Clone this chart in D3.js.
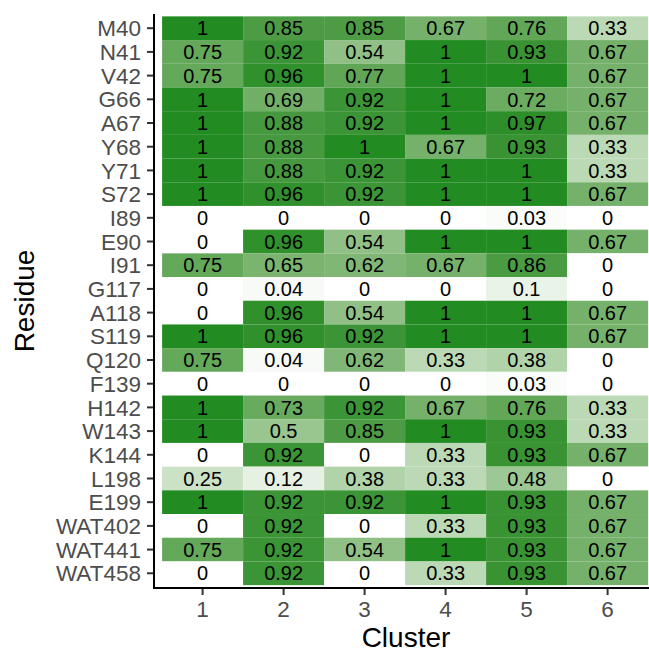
<!DOCTYPE html>
<html>
<head>
<meta charset="utf-8">
<script src="https://cdn.jsdelivr.net/npm/d3@7"></script>
<style>
	body { margin: 0; background: #fff; }
	svg text { font-family: "Liberation Sans", Arial, sans-serif; }
</style>
</head>
<body>
<svg id="svg-heat"></svg>
<script>
/*=================
=== The data
=================*/
var residues = ['M40', 'N41', 'V42', 'G66', 'A67', 'Y68', 'Y71', 'S72', 'I89', 'E90', 'I91', 'G117',
	'A118', 'S119', 'Q120', 'F139', 'H142', 'W143', 'K144', 'L198', 'E199', 'WAT402', 'WAT441', 'WAT458'];
var clusters = ['1', '2', '3', '4', '5', '6'];

// one row per residue, one value per cluster
var c1 = [1, 0.75, 0.75, 1, 1, 1, 1, 1, 0, 0, 0.75, 0, 0, 1, 0.75, 0, 1, 1, 0, 0.25, 1, 0, 0.75, 0];
var c2 = [0.85, 0.92, 0.96, 0.69, 0.88, 0.88, 0.88, 0.96, 0, 0.96, 0.65, 0.04, 0.96, 0.96, 0.04, 0, 0.73, 0.5, 0.92, 0.12, 0.92, 0.92, 0.92, 0.92];
var c3 = [0.85, 0.54, 0.77, 0.92, 0.92, 1, 0.92, 0.92, 0, 0.54, 0.62, 0, 0.54, 0.92, 0.62, 0, 0.92, 0.85, 0, 0.38, 0.92, 0, 0.54, 0];
var c4 = [0.67, 1, 1, 1, 1, 0.67, 1, 1, 0, 1, 0.67, 0, 1, 1, 0.33, 0, 0.67, 1, 0.33, 0.33, 1, 0.33, 1, 0.33];
var c5 = [0.76, 0.93, 1, 0.72, 0.97, 0.93, 1, 1, 0.03, 1, 0.86, 0.1, 1, 1, 0.38, 0.03, 0.76, 0.93, 0.93, 0.48, 0.93, 0.93, 0.93, 0.93];
var c6 = [0.33, 0.67, 0.67, 0.67, 0.67, 0.33, 0.33, 0.67, 0, 0.67, 0, 0, 0.67, 0.67, 0, 0, 0.33, 0.33, 0.67, 0, 0.67, 0.67, 0.67, 0.67];
var clusterValues = [c1, c2, c3, c4, c5, c6];

/*=================
=== The vars
=================*/
var width = 649;
var height = 654;

var svg = d3.select('#svg-heat')
	.attr('width', width)
	.attr('height', height);

// discrete scales, 0.1 of a tile left as gap at each end like ggplot
var x = d3.scaleBand().domain(clusters).range([154, 656.2]).paddingInner(0).paddingOuter(0.1);
var y = d3.scaleBand().domain(residues).range([14, 587.5]).paddingInner(0).paddingOuter(0.1);
var fill = d3.scaleLinear().domain([0, 1]).range(['#ffffff', 'forestgreen']).interpolate(d3.interpolateLab);

var cells = [];
clusters.forEach(function (c, j) {
	residues.forEach(function (r, i) {
		cells.push({ cluster: c, residue: r, value: clusterValues[j][i] });
	});
});

/*=================
=== Tiles
=================*/
svg.append('g')
	.selectAll('rect')
	.data(cells)
	.enter()
	.append('rect')
	.attr('x', function (d) { return x(d.cluster); })
	.attr('y', function (d) { return y(d.residue); })
	.attr('width', x.bandwidth())
	.attr('height', y.bandwidth())
	.attr('fill', function (d) { return fill(d.value); });

svg.append('g')
	.selectAll('text')
	.data(cells)
	.enter()
	.append('text')
	.attr('x', function (d) { return x(d.cluster) + x.bandwidth() / 2; })
	.attr('y', function (d) { return y(d.residue) + y.bandwidth() / 2; })
	.attr('dy', '0.36em')
	.attr('text-anchor', 'middle')
	.style('font-size', '20px')
	.style('fill', '#000')
	.text(function (d) { return d.value; });

/*=================
=== Axes
=================*/
var yAxis = svg.append('g')
	.attr('transform', 'translate(154,0)')
	.call(d3.axisLeft(y).tickSize(7).tickPadding(6));

var xAxis = svg.append('g')
	.attr('transform', 'translate(0,588)')
	.call(d3.axisBottom(x).tickSize(7).tickPadding(5));

[yAxis, xAxis].forEach(function (a) {
	a.select('.domain').remove();
	a.selectAll('.tick line').attr('stroke', '#333').attr('stroke-width', 2);
	a.selectAll('.tick text')
		.style('font-size', '22.5px')
		.style('font-family', '"Liberation Sans", Arial, sans-serif')
		.attr('fill', '#4d4d4d');
});
yAxis.selectAll('.tick text').attr('dy', '0.36em');
xAxis.selectAll('.tick text').attr('dy', '0.75em');

// axis lines drawn on top
svg.append('line')
	.attr('x1', 154).attr('x2', 154)
	.attr('y1', 14).attr('y2', 589)
	.attr('stroke', '#000').attr('stroke-width', 2);
svg.append('line')
	.attr('x1', 153).attr('x2', width)
	.attr('y1', 588).attr('y2', 588)
	.attr('stroke', '#000').attr('stroke-width', 2);

/*=================
=== Titles
=================*/
svg.append('text')
	.attr('x', 406)
	.attr('y', 647)
	.attr('text-anchor', 'middle')
	.style('font-size', '28px')
	.text('Cluster');

svg.append('text')
	.attr('transform', 'translate(34,301) rotate(-90)')
	.attr('text-anchor', 'middle')
	.style('font-size', '28px')
	.text('Residue');
</script>
</body>
</html>
